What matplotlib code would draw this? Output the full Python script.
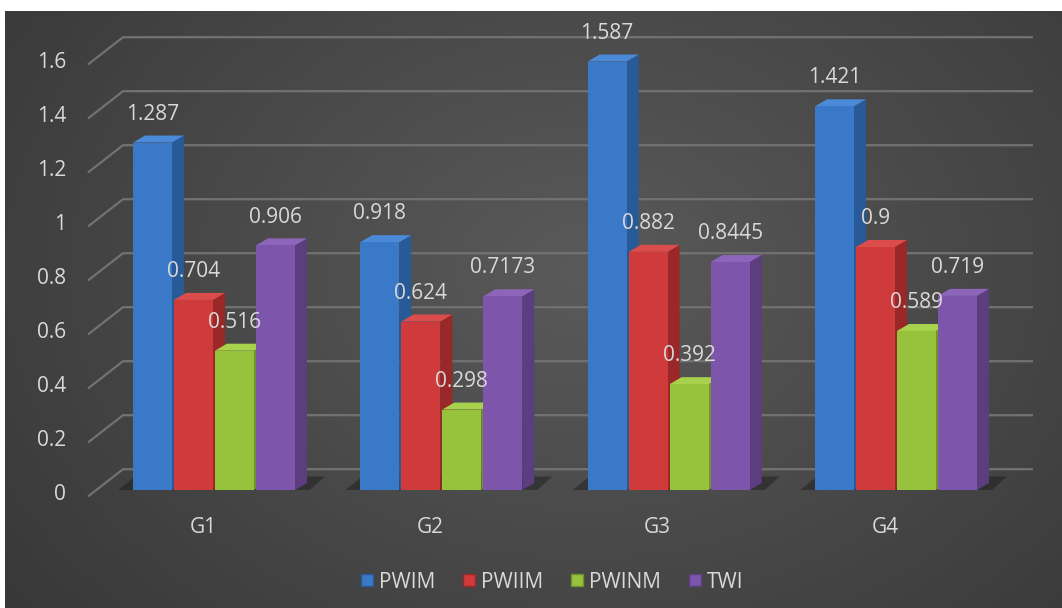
import numpy as np
import matplotlib.pyplot as plt
from matplotlib.patches import Rectangle, Polygon
from matplotlib.lines import Line2D

# chart data
groups = ['G1', 'G2', 'G3', 'G4']
series = ['PWIM', 'PWIIM', 'PWINM', 'TWI']
pwim = [1.287, 0.918, 1.587, 1.421]
pwiim = [0.704, 0.624, 0.882, 0.9]
pwinm = [0.516, 0.298, 0.392, 0.589]
twi = [0.906, 0.7173, 0.8445, 0.719]
labels = [['1.287', '0.918', '1.587', '1.421'],
          ['0.704', '0.624', '0.882', '0.9'],
          ['0.516', '0.298', '0.392', '0.589'],
          ['0.906', '0.7173', '0.8445', '0.719']]
yticks = [0, 0.2, 0.4, 0.6, 0.8, 1.0, 1.2, 1.4, 1.6]
ytick_labels = ['0', '0.2', '0.4', '0.6', '0.8', '1', '1.2', '1.4', '1.6']

# front, side, top colours for each series
colors = [('#3a78c8', '#285a98', '#4b8ad8'),
          ('#cf3a3a', '#9b2828', '#dc4c4c'),
          ('#97c23c', '#71922c', '#a8d24e'),
          ('#7d55ab', '#5b3d80', '#8d66bb')]

W, H = 1062, 608
PX = 227.33   # pixels per group unit
PY = 270.0    # pixels per value unit
TXT = '#d9d9d9'
FS = 15


def main():
    plt.rcParams['font.family'] = ['Open Sans', 'DejaVu Sans']
    fig = plt.figure(figsize=(W / 100, H / 100), dpi=100, facecolor='white')

    # dark radial gradient background (white strip at top and left)
    bg = fig.add_axes([5 / W, 0, (W - 5) / W, (H - 11) / H])
    bg.axis('off')
    yy, xx = np.mgrid[0:300, 0:530]
    d = np.sqrt(((xx - 290) / 560) ** 2 + ((yy - 130) / 420) ** 2)
    d = np.clip(d, 0, 1)
    inner = np.array([0x5a, 0x5a, 0x5a]) / 255
    outer = np.array([0x26, 0x26, 0x26]) / 255
    img = inner[None, None, :] * (1 - d[..., None]) + outer[None, None, :] * d[..., None]
    bg.imshow(img, aspect='auto', interpolation='bilinear')

    ax = fig.add_axes([0, 0, 1, 1])
    ax.patch.set_alpha(0)
    ax.axis('off')
    ax.set_xlim(-203 / PX, (W - 203) / PX)
    ax.set_ylim(-118 / PY, 1.6 + 58 / PY)

    # 3d wall gridlines
    xf, xb, xr = (88 - 203) / PX, (123 - 203) / PX, (1033 - 203) / PX
    fy, by = -0.024, 0.077
    for v, lab in zip(yticks, ytick_labels):
        ax.plot([xf, xb, xr], [v + fy, v + by, v + by], color='#727272',
                lw=1.6, solid_capstyle='butt', zorder=1)
        ax.text((66 - 203) / PX, v - 0.015, lab, ha='right', va='center',
                color=TXT, fontsize=FS)

    # soft floor shadow behind the bars
    for i in range(len(groups)):
        ax.add_patch(Polygon([(i + (118 - 203) / PX, 0), (i + (135 - 203) / PX, 0.05),
                              (i + (325 - 203) / PX, 0.05), (i + (310 - 203) / PX, 0)],
                             closed=True, fc='#1e1e1e', ec='none', alpha=0.5, zorder=1.5))

    # bars
    values = [pwim, pwiim, pwinm, twi]
    step = 41 / PX
    w = 39 / PX
    off = 11 / PX
    dx, dy = 12 / PX, 7 / PY
    for i in range(len(groups)):
        for j, vals in enumerate(values):
            v = vals[i]
            front, side, top = colors[j]
            x0 = i + off + (j - 1.5) * step - w / 2
            ax.add_patch(Polygon([(x0 + w, 0), (x0 + w + dx, dy),
                                  (x0 + w + dx, v + dy), (x0 + w, v)],
                                 closed=True, fc=side, ec='none', zorder=2))
            ax.add_patch(Polygon([(x0, v), (x0 + dx, v + dy),
                                  (x0 + w + dx, v + dy), (x0 + w, v)],
                                 closed=True, fc=top, ec='none', zorder=2))
            ax.add_patch(Rectangle((x0, 0), w, v, fc=front, ec='none', zorder=2))
            ax.text(x0 + w / 2, v + 0.105, labels[j][i], ha='center',
                    va='center', color=TXT, fontsize=FS, zorder=5)

    # category labels
    for i, g in enumerate(groups):
        ax.text(i, -0.14, g, ha='center', va='center', color=TXT, fontsize=FS)

    # legend
    handles = [Line2D([], [], marker='s', ls='none', markersize=8,
                      markerfacecolor=colors[k][0], markeredgecolor=colors[k][1])
               for k in range(len(series))]
    fig.legend(handles, series, loc='center', bbox_to_anchor=(550 / W, 26 / H),
               ncol=4, frameon=False, fontsize=FS, labelcolor=TXT,
               handletextpad=0.1, columnspacing=1.1, handlelength=1.0)

    fig.savefig('out.png', dpi=100)


if __name__ == "__main__":
    main()
